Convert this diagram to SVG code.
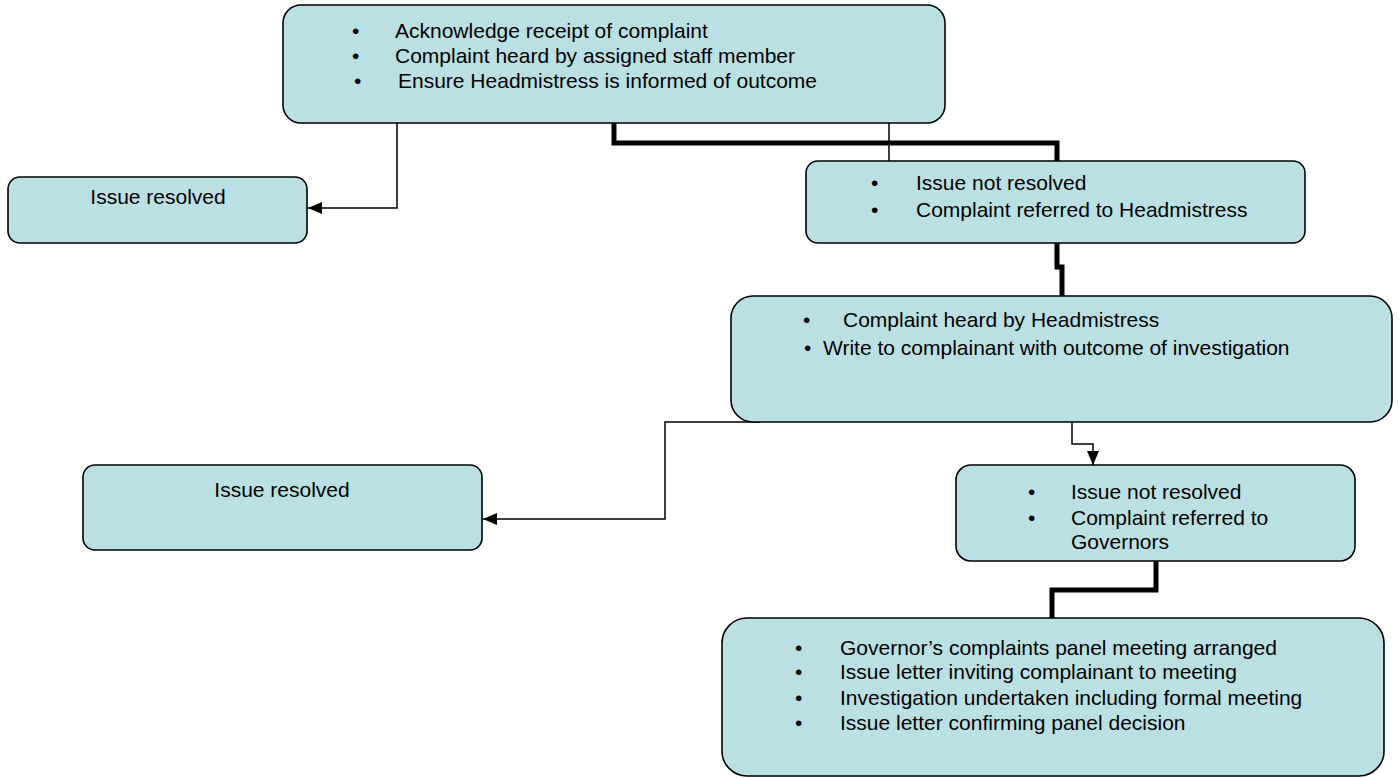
<svg xmlns="http://www.w3.org/2000/svg" width="1400" height="778" viewBox="0 0 1400 778">
<style>
.box{fill:#BBE0E3;stroke:#000;stroke-width:1.6}
.t{font-family:"Liberation Sans",Arial,sans-serif;font-size:21px;fill:#000}
.thin{fill:none;stroke:#000;stroke-width:1.5}
.thick{fill:none;stroke:#000;stroke-width:5}
</style>
<defs>
<marker id="ah" markerUnits="userSpaceOnUse" markerWidth="14" markerHeight="12" refX="14" refY="6" orient="auto">
<path d="M0,0 L14,6 L0,12 z" fill="#000"/>
</marker>
</defs>
<rect width="1400" height="778" fill="#fff"/>
<g id="connectors">
<path class="thick" d="M614,123 V143 H1057 V161"/>
<path class="thin" d="M397,123 V208 H308" marker-end="url(#ah)"/>
<path class="thin" d="M889,123 V177 H927" marker-end="url(#ah)"/>
<path class="thick" d="M1057,243 V267 H1062 V296"/>
<path class="thin" d="M1072,422 V444 H1093 V465" marker-end="url(#ah)"/>
<path class="thin" d="M760,422 H665 V519 H483" marker-end="url(#ah)"/>
<path class="thick" d="M1156,561 V590 H1052 V618"/>
</g>
<g id="n1">
<rect class="box" x="283" y="5" width="662" height="118" rx="18"/>
<text class="t" x="352" y="38">•</text><text class="t" x="395" y="38">Acknowledge receipt of complaint</text>
<text class="t" x="352" y="63">•</text><text class="t" x="395" y="63">Complaint heard by assigned staff member</text>
<text class="t" x="354" y="88">•</text><text class="t" x="398" y="88">Ensure Headmistress is informed of outcome</text>
</g>
<g id="n2">
<rect class="box" x="8" y="177" width="299" height="66" rx="12"/>
<text class="t" x="158" y="204" text-anchor="middle">Issue resolved</text>
</g>
<g id="n3">
<rect class="box" x="806" y="161" width="499" height="82" rx="12"/>
<text class="t" x="871" y="190">•</text><text class="t" x="916" y="190">Issue not resolved</text>
<text class="t" x="871" y="217">•</text><text class="t" x="916" y="217">Complaint referred to Headmistress</text>
</g>
<g id="n4">
<rect class="box" x="731" y="296" width="661" height="126" rx="22"/>
<text class="t" x="803" y="327">•</text><text class="t" x="843" y="327">Complaint heard by Headmistress</text>
<text class="t" x="804" y="355">•</text><text class="t" x="823" y="355">Write to complainant with outcome of investigation</text>
</g>
<g id="n5">
<rect class="box" x="83" y="465" width="399" height="85" rx="12"/>
<text class="t" x="282" y="497" text-anchor="middle">Issue resolved</text>
</g>
<g id="n6">
<rect class="box" x="956" y="465" width="399" height="96" rx="15"/>
<text class="t" x="1028" y="499">•</text><text class="t" x="1071" y="499">Issue not resolved</text>
<text class="t" x="1028" y="525">•</text><text class="t" x="1071" y="525">Complaint referred to</text>
<text class="t" x="1071" y="549">Governors</text>
</g>
<g id="n7">
<rect class="box" x="722" y="618" width="662" height="158" rx="25"/>
<text class="t" x="795" y="655">•</text><text class="t" x="840" y="655">Governor’s complaints panel meeting arranged</text>
<text class="t" x="795" y="679">•</text><text class="t" x="840" y="679">Issue letter inviting complainant to meeting</text>
<text class="t" x="795" y="705">•</text><text class="t" x="840" y="705">Investigation undertaken including formal meeting</text>
<text class="t" x="795" y="730">•</text><text class="t" x="840" y="730">Issue letter confirming panel decision</text>
</g>
</svg>
